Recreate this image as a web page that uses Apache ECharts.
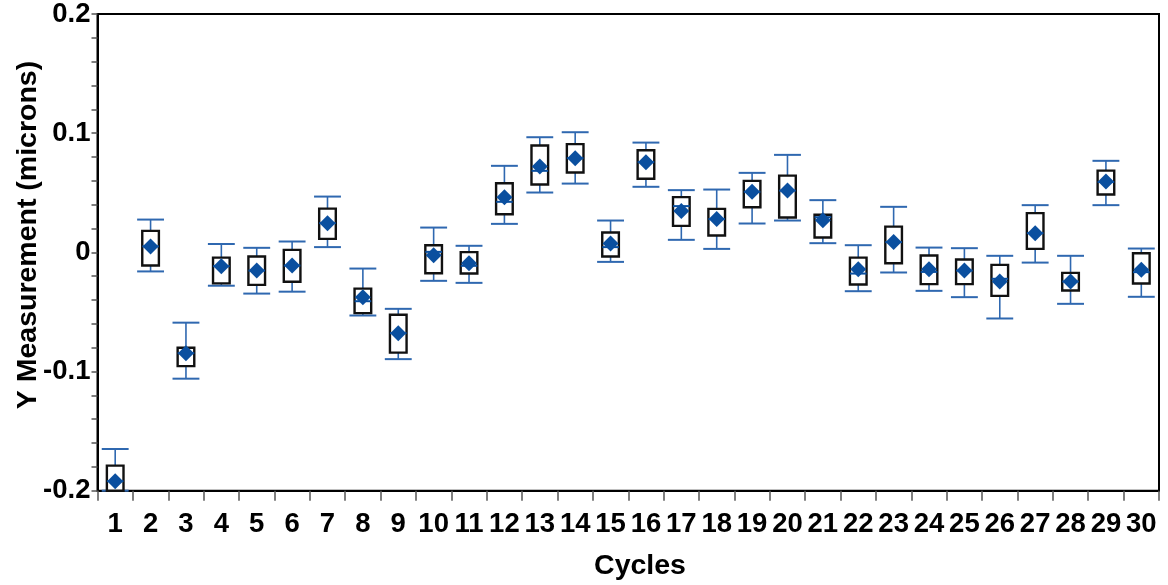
<!DOCTYPE html>
<html>
<head>
<meta charset="utf-8">
<script src="https://cdn.jsdelivr.net/npm/echarts@6/dist/echarts.min.js"></script>
<style>
html,body{margin:0;padding:0;background:#fff;}
#chart{width:1168px;height:585px;}
</style>
</head>
<body>
<div id="chart"></div>
<script>
const categories = ['1','2','3','4','5','6','7','8','9','10','11','12','13','14','15','16','17','18','19','20','21','22','23','24','25','26','27','28','29','30'];
const whiskerLow = [-0.2,-0.016,-0.106,-0.028,-0.0346,-0.033,0.0044,-0.053,-0.0896,-0.0239,-0.0256,0.0239,0.0502,0.0577,-0.008,0.055,0.0105,0.0029,0.0242,0.0267,0.0077,-0.0326,-0.0169,-0.0323,-0.0376,-0.0555,-0.0086,-0.0432,0.0396,-0.0373];
const boxLow = [-0.2,-0.011,-0.0955,-0.026,-0.0273,-0.0247,0.0113,-0.051,-0.0841,-0.0175,-0.0178,0.032,0.0569,0.067,-0.0035,0.0617,0.0222,0.0141,0.0379,0.0292,0.0124,-0.027,-0.0091,-0.0267,-0.0267,-0.0365,0.0029,-0.032,0.0485,-0.0262];
const medians = [-0.192,0.005,-0.0846,-0.0116,-0.0153,-0.0111,0.0245,-0.041,-0.0678,0.0004,-0.0113,0.0424,0.0684,0.079,0.0044,0.0757,0.0388,0.0279,0.0508,0.0518,0.0295,-0.0178,0.0086,-0.0164,-0.0153,-0.0222,0.0161,-0.0245,0.059,-0.0166];
const boxHigh = [-0.179,0.018,-0.08,-0.0044,-0.0035,0.0021,0.0367,-0.0304,-0.0524,0.006,0.0002,0.058,0.0896,0.0908,0.0166,0.0857,0.0463,0.0365,0.06,0.0644,0.0315,-0.0044,0.0216,-0.0027,-0.006,-0.0105,0.0329,-0.0172,0.0686,-0.0007];
const whiskerHigh = [-0.165,0.0275,-0.059,0.007,0.0038,0.0091,0.0468,-0.0136,-0.0474,0.0208,0.0055,0.0726,0.0966,0.1008,0.0267,0.0921,0.0522,0.0527,0.0667,0.0818,0.0438,0.006,0.0382,0.004,0.0035,-0.0029,0.0396,-0.0029,0.0768,0.0032];
const means = [-0.192,0.005,-0.0846,-0.0116,-0.0153,-0.0111,0.0245,-0.0376,-0.0678,-0.0024,-0.0091,0.0463,0.072,0.079,0.0074,0.0757,0.0346,0.0279,0.0508,0.0518,0.027,-0.0141,0.0086,-0.0141,-0.0153,-0.0245,0.0161,-0.0245,0.0594,-0.0147];
const yTicks = {min: -0.2, max: 0.2, interval: 0.1};

const FONT = "'Liberation Sans', Arial, sans-serif";
const BLUE_LINE = '#2f68b0';
const BLUE_MARK = '#0a4f9f';

const boxData = categories.map((c, i) => [i, whiskerLow[i], boxLow[i], medians[i], boxHigh[i], whiskerHigh[i]]);
const meanData = categories.map((c, i) => [i, means[i]]);

const chart = echarts.init(document.getElementById('chart'), null, {renderer: 'canvas'});
chart.setOption({
  animation: false,
  backgroundColor: '#fff',
  grid: {left: 97.5, right: 9, top: 14, bottom: 94.3, show: true, borderColor: '#000', borderWidth: 2, backgroundColor: 'transparent'},
  xAxis: {
    type: 'category',
    data: categories,
    boundaryGap: true,
    axisLine: {show: true, onZero: false, lineStyle: {color: '#000', width: 2}},
    axisTick: {show: true, length: 10, interval: 0, alignWithLabel: false, lineStyle: {color: '#555', width: 1.5}},
    axisLabel: {interval: 0, margin: 20, color: '#000', fontSize: 27.5, fontWeight: 'bold', fontFamily: FONT},
    splitLine: {show: false}
  },
  yAxis: {
    type: 'value',
    min: yTicks.min, max: yTicks.max, interval: yTicks.interval,
    axisLine: {show: true, lineStyle: {color: '#000', width: 2}},
    axisTick: {show: true, length: 6, lineStyle: {color: '#555', width: 1.5}},
    minorTick: {show: true, splitNumber: 5, length: 6, lineStyle: {color: '#555', width: 1.5}},
    splitLine: {show: false},
    axisLabel: {margin: 7, color: '#000', fontSize: 27.5, fontWeight: 'bold', fontFamily: FONT}
  },
  graphic: [
    {type: 'text', x: 28, y: 235, rotation: Math.PI / 2, style: {text: 'Y Measurement (microns)', fill: '#000', font: "bold 28.5px " + FONT, textAlign: 'center', textVerticalAlign: 'middle'}},
    {type: 'text', x: 640, y: 566, style: {text: 'Cycles', fill: '#000', font: "bold 28.5px " + FONT, textAlign: 'center', textVerticalAlign: 'middle'}}
  ],
  series: [
    {
      type: 'custom',
      data: boxData,
      encode: {x: 0, y: [1, 2, 3, 4, 5]},
      z: 2,
      renderItem: function (params, api) {
        const idx = api.value(0);
        const band = api.size([1, 0])[0];
        const capW = band * 0.76;
        const boxW = band * 0.47;
        const pWl = api.coord([idx, api.value(1)]);
        const pBl = api.coord([idx, api.value(2)]);
        const pMed = api.coord([idx, api.value(3)]);
        const pBh = api.coord([idx, api.value(4)]);
        const pWh = api.coord([idx, api.value(5)]);
        const cx = pWl[0];
        const lineStyle = {stroke: BLUE_LINE, lineWidth: 1.6};
        const capStyle = {stroke: BLUE_LINE, lineWidth: 2};
        return {
          type: 'group',
          children: [
            {type: 'line', shape: {x1: cx, y1: pWl[1], x2: cx, y2: pWh[1]}, style: lineStyle},
            {type: 'line', shape: {x1: cx - capW / 2, y1: pWl[1], x2: cx + capW / 2, y2: pWl[1]}, style: capStyle},
            {type: 'line', shape: {x1: cx - capW / 2, y1: pWh[1], x2: cx + capW / 2, y2: pWh[1]}, style: capStyle},
            {type: 'rect', shape: {x: cx - boxW / 2, y: pBh[1], width: boxW, height: pBl[1] - pBh[1]}, style: {fill: '#fff', stroke: '#111', lineWidth: 2.4}},
            {type: 'line', shape: {x1: cx - boxW / 2, y1: pMed[1], x2: cx + boxW / 2, y2: pMed[1]}, style: {stroke: BLUE_MARK, lineWidth: 2}}
          ]
        };
      }
    },
    {
      type: 'scatter',
      data: meanData,
      symbol: 'diamond',
      symbolSize: [16, 16],
      z: 3,
      itemStyle: {color: BLUE_MARK, opacity: 1}
    }
  ]
});
</script>
</body>
</html>
